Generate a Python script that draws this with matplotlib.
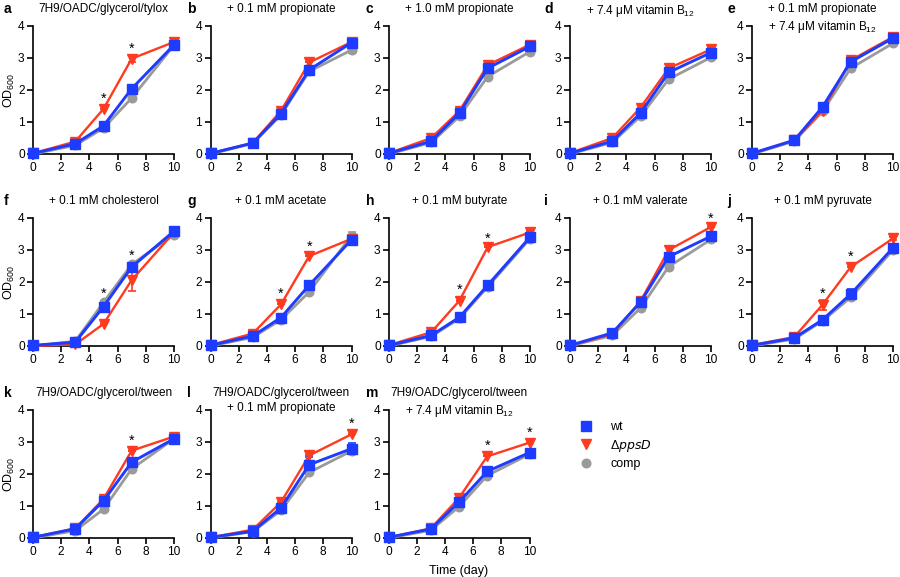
import matplotlib
matplotlib.use("Agg")
import matplotlib.pyplot as plt
from matplotlib.lines import Line2D

plt.rcParams['font.family'] = ['Liberation Sans', 'DejaVu Sans']
plt.rcParams['mathtext.default'] = 'regular'

days = [0, 3, 5, 7, 10]

letters = list("abcdefghijklm")
titles = [
    "7H9/OADC/glycerol/tylox",
    "+ 0.1 mM propionate",
    "+ 1.0 mM propionate",
    "+ 7.4 \u03bcM vitamin B$_{12}$",
    "+ 0.1 mM propionate\n+ 7.4 \u03bcM vitamin B$_{12}$",
    "+ 0.1 mM cholesterol",
    "+ 0.1 mM acetate",
    "+ 0.1 mM butyrate",
    "+ 0.1 mM valerate",
    "+ 0.1 mM pyruvate",
    "7H9/OADC/glycerol/tween",
    "7H9/OADC/glycerol/tween\n+ 0.1 mM propionate",
    "7H9/OADC/glycerol/tween\n+ 7.4 \u03bcM vitamin B$_{12}$",
]

wt = [
    [0.02, 0.32, 0.88, 2.04, 3.41],
    [0.02, 0.34, 1.26, 2.63, 3.48],
    [0.02, 0.40, 1.28, 2.68, 3.36],
    [0.02, 0.40, 1.28, 2.55, 3.17],
    [0.02, 0.43, 1.47, 2.88, 3.62],
    [0.02, 0.12, 1.23, 2.47, 3.59],
    [0.02, 0.31, 0.89, 1.90, 3.32],
    [0.02, 0.33, 0.90, 1.90, 3.40],
    [0.02, 0.41, 1.37, 2.79, 3.43],
    [0.02, 0.25, 0.82, 1.62, 3.07],
    [0.02, 0.29, 1.16, 2.37, 3.10],
    [0.02, 0.21, 0.94, 2.29, 2.79],
    [0.02, 0.28, 1.12, 2.08, 2.67],
]
ppsD = [
    [0.02, 0.39, 1.41, 2.98, 3.50],
    [0.02, 0.35, 1.35, 2.86, 3.50],
    [0.03, 0.50, 1.35, 2.78, 3.42],
    [0.03, 0.50, 1.45, 2.68, 3.27],
    [0.02, 0.43, 1.35, 2.93, 3.66],
    [0.00, 0.05, 0.69, 2.06, 3.55],
    [0.03, 0.39, 1.30, 2.81, 3.35],
    [0.03, 0.43, 1.42, 3.09, 3.55],
    [0.02, 0.37, 1.40, 3.00, 3.72],
    [0.03, 0.28, 1.29, 2.47, 3.36],
    [0.02, 0.30, 1.22, 2.73, 3.17],
    [0.02, 0.26, 1.12, 2.58, 3.24],
    [0.02, 0.30, 1.25, 2.55, 2.98],
]
comp = [
    [0.00, 0.27, 0.81, 1.75, 3.40],
    [0.00, 0.33, 1.22, 2.58, 3.25],
    [0.00, 0.36, 1.18, 2.42, 3.20],
    [0.00, 0.36, 1.18, 2.34, 3.02],
    [0.00, 0.40, 1.33, 2.68, 3.46],
    [0.00, 0.15, 1.36, 2.55, 3.48],
    [0.00, 0.27, 0.82, 1.69, 3.45],
    [0.00, 0.30, 0.86, 1.85, 3.35],
    [0.00, 0.33, 1.19, 2.48, 3.33],
    [0.00, 0.22, 0.78, 1.52, 3.00],
    [0.00, 0.23, 0.90, 2.16, 3.10],
    [0.00, 0.20, 0.86, 2.05, 2.72],
    [0.00, 0.24, 0.98, 1.95, 2.62],
]
wt_err = [
    [0, 0, 0, 0.05, 0.05], [0, 0, 0, 0, 0.05], [0, 0, 0, 0, 0.05], [0, 0, 0, 0, 0.05],
    [0, 0, 0, 0, 0.08], [0, 0, 0, 0.05, 0.05], [0, 0, 0, 0, 0.05], [0, 0, 0, 0, 0.08],
    [0, 0, 0, 0, 0.05], [0, 0, 0, 0.15, 0.08], [0, 0, 0, 0, 0.08], [0, 0, 0, 0.25, 0.18],
    [0, 0, 0, 0, 0.1],
]
ppsD_err = [
    [0, 0, 0, 0.1, 0.05], [0, 0, 0, 0, 0], [0, 0, 0, 0, 0], [0, 0, 0, 0, 0.05],
    [0, 0, 0, 0, 0.1], [0, 0, 0, 0.35, 0], [0, 0, 0, 0, 0], [0, 0, 0, 0, 0.05],
    [0, 0, 0, 0.08, 0], [0, 0, 0.15, 0, 0.05], [0, 0, 0, 0, 0.05], [0, 0, 0, 0, 0],
    [0, 0, 0, 0, 0],
]
comp_err = [
    [0, 0, 0, 0, 0], [0, 0, 0, 0, 0.1], [0, 0, 0, 0, 0], [0, 0, 0, 0, 0],
    [0, 0, 0, 0, 0.08], [0, 0, 0, 0, 0.1], [0, 0, 0, 0.1, 0.12], [0, 0, 0, 0, 0],
    [0, 0, 0, 0, 0], [0, 0, 0, 0, 0], [0, 0, 0, 0.1, 0], [0, 0, 0, 0, 0],
    [0, 0, 0, 0.1, 0],
]
# significance stars: (panel index, day, height)
stars = [
    (0, 5, 1.72), (0, 7, 3.30),
    (5, 5, 1.62), (5, 7, 2.82),
    (6, 5, 1.62), (6, 7, 3.10),
    (7, 5, 1.75), (7, 7, 3.35),
    (8, 10, 3.98),
    (9, 5, 1.62), (9, 7, 2.78),
    (10, 7, 3.05),
    (11, 10, 3.58),
    (12, 7, 2.88), (12, 10, 3.30),
]

BLUE = '#1d3cff'
RED = '#ff3b1f'
GRAY = '#9a9a9a'

W, H = 900, 577
fig = plt.figure(figsize=(W / 100, H / 100), dpi=100)

col_left = [33, 210.5, 389, 570, 752]
row_top = [26, 218, 410]
ax_w, ax_h = 141, 128
letter_x = [4, 187, 366, 544, 727]

axes = []
for i in range(13):
    r, c = divmod(i, 5)
    l = col_left[c]
    if r == 2 and c == 2:
        l = 388.5
    t = row_top[r]
    ax = fig.add_axes([l / W, 1 - (t + ax_h) / H, ax_w / W, ax_h / H])
    axes.append(ax)

    for y, e, col, mk, ms, lw in [
        (comp[i], comp_err[i], GRAY, 'o', 6.2, 2.0),
        (ppsD[i], ppsD_err[i], RED, 'v', 6.8, 1.7),
        (wt[i], wt_err[i], BLUE, 's', 7.2, 2.1),
    ]:
        ax.errorbar(days, y, yerr=e, color=col, marker=mk, ms=ms, lw=lw,
                    capsize=3, elinewidth=1.2, capthick=1.2, clip_on=False,
                    mec=col, mfc=col, zorder=3)

    for (pi, d, h) in stars:
        if pi == i:
            ax.text(d, h, '*', ha='center', va='center', fontsize=10.5, zorder=5)

    ax.set_xlim(0, 10)
    ax.set_ylim(0, 4)
    ax.set_xticks([0, 2, 4, 6, 8, 10])
    ax.set_yticks([0, 1, 2, 3, 4])
    for s in ['top', 'right']:
        ax.spines[s].set_visible(False)
    for s in ['left', 'bottom']:
        ax.spines[s].set_linewidth(1.2)
    ax.tick_params(direction='out', length=4, width=1.2, labelsize=8.6, pad=2)

    ax.text(0.5, 1.177, titles[i], transform=ax.transAxes, ha='center', va='top',
            fontsize=8.5, linespacing=1.35)
    fig.text(letter_x[c] / W, 1 - (row_top[r] - 17) / H, letters[i],
             fontsize=10, fontweight='bold', ha='left', va='center')
    if c == 0:
        ax.set_ylabel('OD$_{600}$', fontsize=9)
        ax.yaxis.label.set_va('center')
        ax.yaxis.set_label_coords(-24 / ax_w, 0.5)

axes[12].set_xlabel('Time (day)', fontsize=9, labelpad=5)

handles = [
    Line2D([], [], color=BLUE, marker='s', ls='none', ms=7.2),
    Line2D([], [], color=RED, marker='v', ls='none', ms=6.8),
    Line2D([], [], color=GRAY, marker='o', ls='none', ms=6.2),
]
fig.legend(handles, ['wt', '$\\Delta\\mathit{ppsD}$', 'comp'], loc='upper left',
           bbox_to_anchor=(568 / W, 1 - 410 / H), frameon=False, fontsize=9,
           handlelength=1.0, handletextpad=1.5, labelspacing=0.36)

fig.savefig('out.png', dpi=100)
